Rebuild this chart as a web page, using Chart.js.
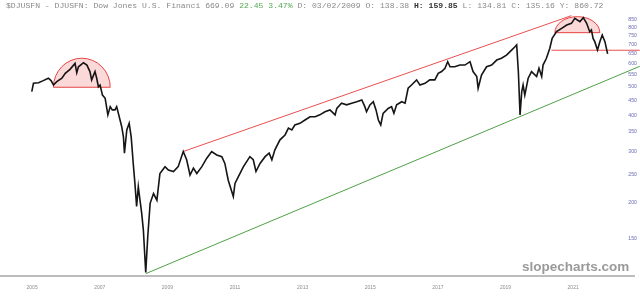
<!DOCTYPE html>
<html>
<head>
<meta charset="utf-8">
<script src="https://cdn.jsdelivr.net/npm/chart.js@4"></script>
<style>
  body { margin: 0; background: #fff; }
  #wrap { position: relative; width: 640px; height: 299px; }
  #header {
    position: absolute; left: 6px; top: 1px;
    font: 8.1px "Liberation Mono", monospace; color: #8a8a8a;
    white-space: pre;
  }
  #header .up { color: #55aa55; }
  #header b { color: #333; }
  #mark {
    position: absolute; left: 522px; top: 259px;
    font: bold 13.5px "Liberation Sans", Arial, sans-serif; color: #9a9a9a;
  }
</style>
</head>
<body>
<div id="wrap">
  <canvas id="chart"></canvas>
  <div id="header">$DJUSFN - DJUSFN: Dow Jones U.S. Financi 669.09 <span class="up">22.45 3.47%</span> D: 03/02/2009 O: 138.38 <b>H: 159.85</b> L: 134.81 C: 135.16 Y: 860.72</div>
  <div id="mark">slopecharts.com</div>
</div>
<script>
/* Datos */
const dates = [
  2004.99, 2005.04, 2005.19, 2005.33, 2005.48, 2005.56, 2005.63, 2005.73, 2005.88, 2005.98,
  2006.12, 2006.27, 2006.32, 2006.37, 2006.52, 2006.62, 2006.71, 2006.76, 2006.86, 2006.91,
  2006.96, 2007.01, 2007.08, 2007.16, 2007.24, 2007.31, 2007.37, 2007.45, 2007.50, 2007.55,
  2007.65, 2007.70, 2007.73, 2007.80, 2007.87, 2007.93, 2007.99, 2008.04, 2008.09, 2008.14,
  2008.19, 2008.24, 2008.29, 2008.36, 2008.42, 2008.49, 2008.59, 2008.69, 2008.78, 2008.93,
  2009.03, 2009.18, 2009.32, 2009.47, 2009.57, 2009.67, 2009.77, 2009.87, 2010.02, 2010.16,
  2010.31, 2010.46, 2010.61, 2010.70, 2010.80, 2010.95, 2011.00, 2011.10, 2011.25, 2011.44,
  2011.54, 2011.62, 2011.74, 2011.89, 2012.01, 2012.09, 2012.18, 2012.33, 2012.48, 2012.58,
  2012.68, 2012.77, 2012.92, 2013.07, 2013.22, 2013.37, 2013.51, 2013.66, 2013.81, 2013.96,
  2014.01, 2014.15, 2014.30, 2014.45, 2014.60, 2014.75, 2014.84, 2014.89, 2014.99, 2015.09,
  2015.17, 2015.24, 2015.31, 2015.38, 2015.53, 2015.63, 2015.70, 2015.78, 2015.93, 2016.03,
  2016.12, 2016.22, 2016.37, 2016.47, 2016.62, 2016.76, 2016.91, 2017.01, 2017.11, 2017.21,
  2017.29, 2017.36, 2017.50, 2017.65, 2017.80, 2017.95, 2018.04, 2018.15, 2018.19, 2018.29,
  2018.44, 2018.59, 2018.74, 2018.88, 2019.03, 2019.18, 2019.28, 2019.33, 2019.38, 2019.43,
  2019.48, 2019.52, 2019.57, 2019.67, 2019.77, 2019.92, 2019.99, 2020.07, 2020.11, 2020.21,
  2020.31, 2020.38, 2020.51, 2020.66, 2020.81, 2020.95, 2021.05, 2021.20, 2021.30, 2021.40,
  2021.49, 2021.54, 2021.59, 2021.64, 2021.72, 2021.79, 2021.86, 2021.94, 2022.02
];
const prices = [
  482, 515, 517, 526, 536, 526, 508, 522, 536, 557,
  575, 603, 560, 587, 606, 595, 565, 529, 565, 536,
  501, 508, 469, 457, 401, 428, 417, 417, 428, 406,
  365, 337, 296, 356, 375, 337, 273, 233, 194, 227,
  204, 184, 161, 115, 153, 199, 215, 204, 252, 266,
  259, 256, 266, 300, 281, 249, 263, 252, 266, 284,
  300, 292, 288, 273, 239, 210, 233, 246, 266, 288,
  281, 256, 273, 288, 296, 281, 304, 329, 342, 361,
  356, 370, 375, 385, 395, 395, 401, 411, 417, 401,
  422, 440, 434, 440, 445, 451, 428, 411, 434, 445,
  417, 385, 370, 406, 422, 428, 406, 434, 445, 440,
  495, 508, 529, 508, 515, 529, 529, 557, 565, 580,
  611, 587, 587, 595, 595, 611, 565, 543, 495, 550,
  587, 595, 619, 628, 644, 670, 688, 698, 565, 401,
  482, 508, 469, 536, 565, 543, 580, 543, 595, 628,
  680, 735, 775, 796, 817, 828, 862, 839, 866, 828,
  775, 786, 735, 716, 670, 716, 755, 716, 650
];

/* Líneas de tendencia */
const upperDates = [2009.47, 2020.95];
const upperValues = [300, 880];
const lowerDates = [2008.36, 2022.97];
const lowerValues = [114, 589];
const levelDates = [2020.36, 2022.97];
const levelValues = [669, 669];

/* Semicírculos: inicio, fin, base, techo */
const arcStarts = [2005.63, 2020.46];
const arcEnds = [2007.31, 2021.79];
const arcBases = [499, 769];
const arcTops = [628, 873];

const yTicks = [150, 200, 250, 300, 350, 400, 450, 500, 550, 600, 650, 700, 750, 800, 850];
const xTicks = [2005, 2007, 2009, 2011, 2013, 2015, 2017, 2019, 2021];

const toPoints = (xs, ys) => xs.map((x, i) => ({ x, y: ys[i] }));

const arcPlugin = {
    id: 'arcs',
    beforeDatasetsDraw(chart) {
        const { ctx, scales: { x, y } } = chart;
        arcStarts.forEach((start, i) => {
            const x0 = x.getPixelForValue(start);
            const x1 = x.getPixelForValue(arcEnds[i]);
            const yb = y.getPixelForValue(arcBases[i]);
            const yt = y.getPixelForValue(arcTops[i]);
            ctx.save();
            ctx.beginPath();
            ctx.ellipse((x0 + x1) / 2, yb, (x1 - x0) / 2, yb - yt, 0, Math.PI, 2 * Math.PI);
            ctx.closePath();
            ctx.fillStyle = 'rgba(240, 80, 80, 0.22)';
            ctx.fill();
            ctx.strokeStyle = 'rgba(225, 50, 50, 0.9)';
            ctx.lineWidth = 1;
            ctx.stroke();
            ctx.restore();
        });
    }
};

new Chart(document.getElementById('chart'), {
    type: 'line',
    data: {
        datasets: [
            {
                data: toPoints(dates, prices),
                borderColor: '#151515',
                borderWidth: 1.6,
                pointRadius: 0,
                tension: 0,
                order: 1
            },
            {
                data: toPoints(upperDates, upperValues),
                borderColor: 'rgba(230, 60, 60, 0.9)',
                borderWidth: 1,
                pointRadius: 0,
                clip: false,
                order: 2
            },
            {
                data: toPoints(lowerDates, lowerValues),
                borderColor: 'rgba(60, 150, 50, 0.9)',
                borderWidth: 1,
                pointRadius: 0,
                clip: false,
                order: 2
            },
            {
                data: toPoints(levelDates, levelValues),
                borderColor: 'rgba(230, 60, 60, 0.9)',
                borderWidth: 1,
                pointRadius: 0,
                clip: false,
                order: 2
            }
        ]
    },
    options: {
        responsive: true,
        maintainAspectRatio: false,
        animation: false,
        layout: { padding: { top: 14, left: 0, right: 0, bottom: 0 } },
        plugins: {
            legend: { display: false },
            tooltip: { enabled: false }
        },
        scales: {
            x: {
                type: 'linear',
                min: 2004.05,
                max: 2022.8,
                grid: { display: false, drawTicks: false },
                border: { display: true, color: '#bdbdbd', width: 2 },
                afterBuildTicks: (scale) => {
                    scale.ticks = xTicks.map((v) => ({ value: v }));
                },
                ticks: {
                    color: '#8c8c8c',
                    font: { family: 'Liberation Sans', size: 5 },
                    padding: 8.5,
                    maxRotation: 0,
                    callback: (v) => String(v)
                }
            },
            y: {
                type: 'logarithmic',
                position: 'right',
                min: 111.9,
                max: 891.5,
                grid: { display: false, drawTicks: false },
                border: { display: false },
                afterBuildTicks: (scale) => {
                    scale.ticks = yTicks.map((v) => ({ value: v }));
                },
                ticks: {
                    mirror: true,
                    padding: 3,
                    color: '#6a6ab4',
                    font: { family: 'Liberation Sans', size: 5.2 },
                    callback: (v) => String(v)
                }
            }
        }
    },
    plugins: [arcPlugin]
});
</script>
</body>
</html>
